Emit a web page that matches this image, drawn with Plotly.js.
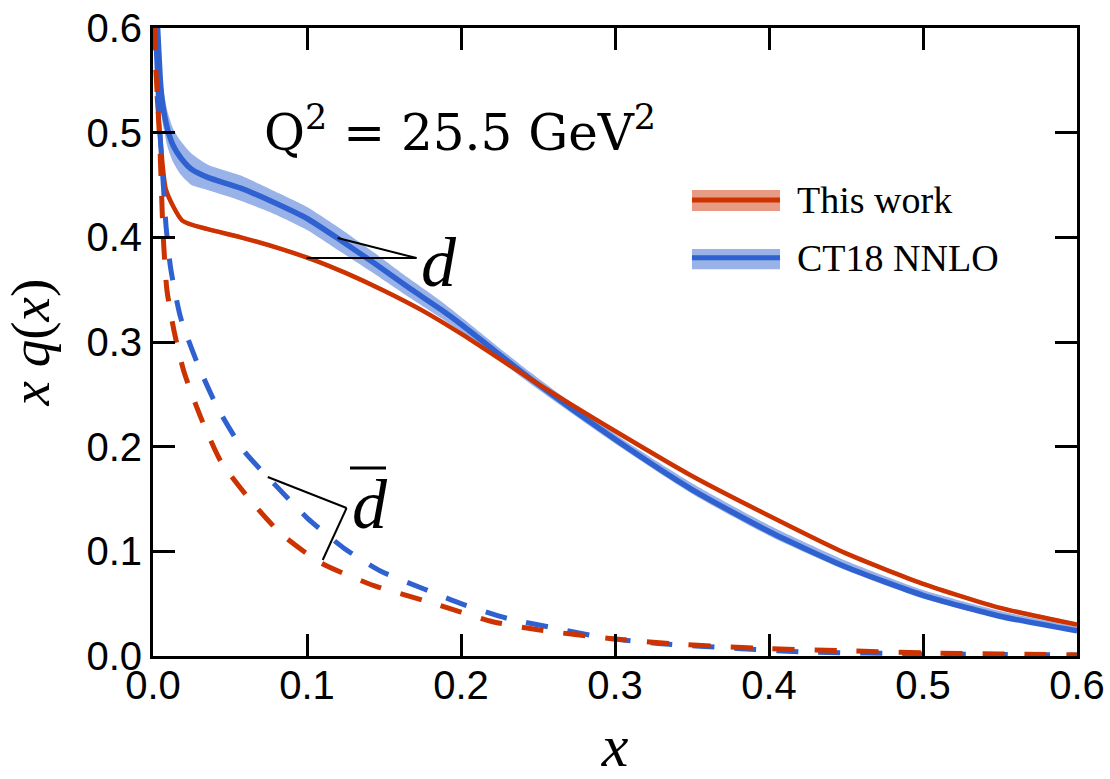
<!DOCTYPE html>
<html>
<head>
<meta charset="utf-8">
<script src="https://cdn.plot.ly/plotly-3.0.1.min.js"></script>
<style>html,body{margin:0;padding:0;background:#fff;}#chart{width:1110px;height:779px;}</style>
</head>
<body>
<div id="chart"></div>
<script>
// ---- This work: d (solid) ----
const xThisD   = [0.0025, 0.005, 0.0085, 0.019, 0.035, 0.057, 0.083, 0.105, 0.125, 0.15, 0.175, 0.2, 0.25, 0.3, 0.35, 0.4, 0.45, 0.5, 0.55, 0.6];
const thisD    = [0.535, 0.49, 0.445, 0.416, 0.408, 0.400, 0.389, 0.378, 0.366, 0.349, 0.330, 0.308, 0.260, 0.215, 0.172, 0.134, 0.098, 0.069, 0.046, 0.030];
const thisDUp  = [0.537, 0.492, 0.447, 0.418, 0.410, 0.402, 0.391, 0.380, 0.368, 0.351, 0.332, 0.310, 0.262, 0.217, 0.174, 0.136, 0.100, 0.071, 0.048, 0.032];
const thisDLo  = [0.533, 0.488, 0.443, 0.414, 0.406, 0.398, 0.387, 0.376, 0.364, 0.347, 0.328, 0.306, 0.258, 0.213, 0.170, 0.132, 0.096, 0.067, 0.044, 0.028];

// ---- CT18 NNLO: d (solid) ----
const xCtD  = [0.002, 0.003, 0.005, 0.0065, 0.0095, 0.013, 0.018, 0.025, 0.036, 0.057, 0.079, 0.1, 0.122, 0.144, 0.165, 0.187, 0.2, 0.245, 0.3, 0.35, 0.4, 0.45, 0.5, 0.55, 0.6];
const ctD   = [0.63, 0.60, 0.545, 0.525, 0.503, 0.488, 0.476, 0.465, 0.457, 0.447, 0.433, 0.418, 0.397, 0.375, 0.353, 0.331, 0.317, 0.265, 0.207, 0.159, 0.119, 0.085, 0.058, 0.038, 0.024];
const ctDUp = [0.655, 0.622, 0.565, 0.543, 0.520, 0.504, 0.492, 0.480, 0.469, 0.459, 0.444, 0.429, 0.408, 0.385, 0.362, 0.339, 0.324, 0.271, 0.212, 0.165, 0.125, 0.091, 0.063, 0.043, 0.028];
const ctDLo = [0.605, 0.578, 0.525, 0.507, 0.486, 0.472, 0.460, 0.450, 0.445, 0.435, 0.422, 0.407, 0.386, 0.365, 0.344, 0.323, 0.310, 0.260, 0.203, 0.155, 0.115, 0.082, 0.055, 0.036, 0.022];

// ---- This work: d-bar (dashed) ----
const xThisDbar = [0.001, 0.0015, 0.003, 0.0045, 0.0065, 0.009, 0.0136, 0.02, 0.031, 0.044, 0.062, 0.083, 0.109, 0.144, 0.176, 0.2, 0.22, 0.25, 0.295, 0.34, 0.4, 0.45, 0.5, 0.55, 0.6];
const thisDbar  = [0.60, 0.57, 0.53, 0.487, 0.405, 0.35, 0.311, 0.272, 0.228, 0.186, 0.151, 0.117, 0.089, 0.067, 0.053, 0.042, 0.033, 0.025, 0.017, 0.0115, 0.007, 0.005, 0.003, 0.002, 0.001];

// ---- CT18 NNLO: d-bar (dashed) ----
const xCtDbar = [0.001, 0.003, 0.0045, 0.0065, 0.0085, 0.0115, 0.018, 0.029, 0.042, 0.059, 0.079, 0.1, 0.124, 0.148, 0.176, 0.2, 0.23, 0.263, 0.295, 0.328, 0.382, 0.42, 0.5, 0.6];
const ctDbar  = [0.62, 0.55, 0.50, 0.455, 0.41, 0.37, 0.323, 0.279, 0.237, 0.196, 0.164, 0.132, 0.103, 0.081, 0.064, 0.050, 0.036, 0.026, 0.017, 0.012, 0.007, 0.004, 0.002, 0.001];

const seriesNames = ["This work", "CT18 NNLO"];
const tickVals = [0, 0.1, 0.2, 0.3, 0.4, 0.5, 0.6];
const tickText = ["0.0", "0.1", "0.2", "0.3", "0.4", "0.5", "0.6"];

const RED = "rgb(204,51,0)", RED_BAND = "rgba(204,51,0,0.49)";
const BLUE = "rgb(47,98,208)", BLUE_BAND = "rgba(47,98,208,0.49)";
const DASH = "22px,20px";
const SM = {shape: "spline", smoothing: 0.6};

const traces = [
  {x: xCtD, y: ctDLo, mode: "lines", line: Object.assign({width: 0, color: BLUE}, SM), hoverinfo: "skip", showlegend: false},
  {x: xCtD, y: ctDUp, mode: "lines", line: Object.assign({width: 0, color: BLUE}, SM), fill: "tonexty", fillcolor: BLUE_BAND, hoverinfo: "skip", showlegend: false},
  {x: xCtD, y: ctD, mode: "lines", name: seriesNames[1], line: Object.assign({width: 5.5, color: BLUE}, SM)},
  {x: xThisD, y: thisDLo, mode: "lines", line: Object.assign({width: 0, color: RED}, SM), hoverinfo: "skip", showlegend: false},
  {x: xThisD, y: thisDUp, mode: "lines", line: Object.assign({width: 0, color: RED}, SM), fill: "tonexty", fillcolor: RED_BAND, hoverinfo: "skip", showlegend: false},
  {x: xThisD, y: thisD, mode: "lines", name: seriesNames[0], line: Object.assign({width: 4.5, color: RED}, SM)},
  {x: xCtDbar, y: ctDbar, mode: "lines", line: Object.assign({width: 5, color: BLUE, dash: DASH}, SM), showlegend: false},
  {x: xThisDbar, y: thisDbar, mode: "lines", line: Object.assign({width: 5, color: RED, dash: DASH}, SM), showlegend: false}
];

const axisCommon = {
  range: [0, 0.6], tickmode: "array", tickvals: tickVals, ticktext: tickText,
  ticks: "inside", ticklen: 22, tickwidth: 3, tickcolor: "#000",
  showline: true, linewidth: 3, linecolor: "#000", mirror: "allticks",
  showgrid: false, zeroline: false,
  tickfont: {family: "Liberation Sans, Arial, sans-serif", size: 40, color: "#000"}
};

const serif = "Liberation Serif, Times New Roman, serif";
const layout = {
  width: 1110, height: 779,
  margin: {l: 153, r: 33, t: 28, b: 123},
  paper_bgcolor: "#fff", plot_bgcolor: "#fff",
  showlegend: false,
  xaxis: Object.assign({}, axisCommon, {
    ticklabelstandoff: -8,
    title: {text: "<i>x</i>", standoff: 62, font: {family: serif, size: 60, color: "#000"}}
  }),
  yaxis: Object.assign({}, axisCommon, {
    ticklabelstandoff: 0,
    title: {text: "<i>x q</i>(<i>x</i>)", standoff: 24, font: {family: serif, size: 55, color: "#000"}}
  }),
  annotations: [
    {xref: "paper", yref: "paper", x: 0.332, y: 0.8376, xanchor: "center", yanchor: "middle", showarrow: false,
     text: "Q<sup>2</sup> = 25.5 GeV<sup>2</sup>", font: {family: "DejaVu Serif, serif", size: 50, color: "#000"}},
    {xref: "paper", yref: "paper", x: 0.3095, y: 0.627, xanchor: "center", yanchor: "middle", showarrow: false,
     text: "<i>d</i>", font: {family: serif, size: 70, color: "#000"}},
    {xref: "paper", yref: "paper", x: 0.2348, y: 0.242, xanchor: "center", yanchor: "middle", showarrow: false,
     text: "<i>d</i>", font: {family: serif, size: 70, color: "#000"}},
    {xref: "paper", yref: "paper", x: 0.695, y: 0.726, xanchor: "left", yanchor: "middle", showarrow: false,
     text: seriesNames[0], font: {family: serif, size: 38, color: "#000"}},
    {xref: "paper", yref: "paper", x: 0.695, y: 0.634, xanchor: "left", yanchor: "middle", showarrow: false,
     text: seriesNames[1], font: {family: serif, size: 38, color: "#000"}}
  ],
  shapes: [
    {type: "line", xref: "x", yref: "y", x0: 0.1199, y0: 0.3993, x1: 0.1711, y1: 0.3802, line: {color: "#000", width: 2}},
    {type: "line", xref: "x", yref: "y", x0: 0.0998, y0: 0.3802, x1: 0.1711, y1: 0.3802, line: {color: "#000", width: 2}},
    {type: "line", xref: "x", yref: "y", x0: 0.0745, y0: 0.1710, x1: 0.1257, y1: 0.1414, line: {color: "#000", width: 2}},
    {type: "line", xref: "x", yref: "y", x0: 0.1102, y0: 0.0917, x1: 0.1257, y1: 0.1414, line: {color: "#000", width: 2}},
    {type: "line", xref: "paper", yref: "paper", x0: 0.2132, x1: 0.2522, y0: 0.2994, y1: 0.2994, line: {color: "#000", width: 3}},
    {type: "rect", xref: "paper", yref: "paper", x0: 0.5833, x1: 0.6786, y0: 0.7086, y1: 0.742, fillcolor: RED_BAND, line: {width: 0}},
    {type: "line", xref: "paper", yref: "paper", x0: 0.5833, x1: 0.6786, y0: 0.726, y1: 0.726, line: {color: RED, width: 5}},
    {type: "rect", xref: "paper", yref: "paper", x0: 0.5833, x1: 0.6786, y0: 0.616, y1: 0.648, fillcolor: BLUE_BAND, line: {width: 0}},
    {type: "line", xref: "paper", yref: "paper", x0: 0.5833, x1: 0.6786, y0: 0.634, y1: 0.634, line: {color: BLUE, width: 5}}
  ]
};

Plotly.newPlot("chart", traces, layout, {displayModeBar: false, staticPlot: true});
</script>
</body>
</html>
